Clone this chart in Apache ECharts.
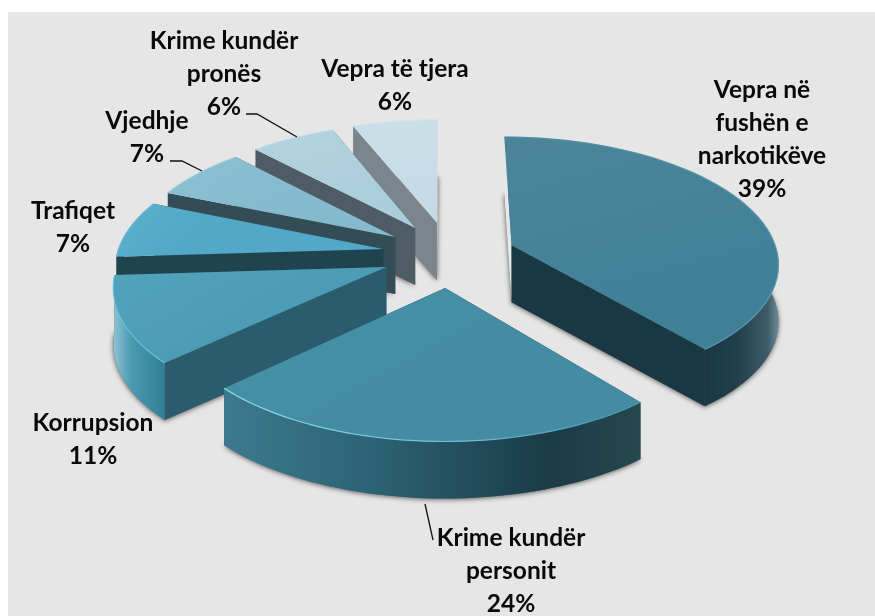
<!DOCTYPE html>
<html><head><meta charset="utf-8">
<style>html,body{margin:0;padding:0;background:#fff}#c{width:875px;height:616px}</style>
<script src="https://cdn.jsdelivr.net/npm/echarts@6/dist/echarts.min.js"></script>
</head><body><div id="c"></div>
<script>
const names = ['Vepra në\nfushën e\nnarkotikëve','Krime kundër\npersonit','Korrupsion','Trafiqet','Vjedhje','Krime kundër\npronës','Vepra të tjera'];
const values = [39,24,11,7.3,6.7,6,6];
const explodeX = [0.245,-0.007,-0.225,-0.241,-0.198,-0.123,-0.039];
const explodeY = [-0.159,0.177,0.016,-0.128,-0.226,-0.302,-0.345];
const drawOrder = [6,5,4,3,2,0,1];
const topFrom = ['#4c8599','#4793aa','#52a3bc','#5ab1cd','#8dc2d4','#b3d3e0','#cbdfe8'];
const topTo   = ['#3f8097','#438ca4','#4d9cb6','#52a8c6','#85bacd','#accddb','#c4dae4'];
const startWall = ['#e4e8ea','#1f4350','#2a5c6d','#1f444f','#344c56','#4d5c65','#7a868b'];
const endWall   = ['#1a3843','#1f4350','#2a5c6d','#1f444f','#344c56','#4d5c65','#e2e7ea'];
const arcStops = [
 [[0,'#1a3843'],[0.45,'#22404c'],[0.85,'#3d5b68'],[1,'#6d8a95']],
 [[0,'#3d7a8e'],[0.35,'#2c6375'],[0.78,'#1a3b47'],[1,'#27464f']],
 [[0,'#8fc4d3'],[0.35,'#4a9ab2'],[1,'#2f7e96']],
 [[0,'#1f444f'],[1,'#1f444f']],
 [[0,'#344c56'],[1,'#344c56']],
 [[0,'#4d5c65'],[1,'#4d5c65']],
 [[0,'#7a868b'],[1,'#7a868b']]
];
const rimStops = [
 [[0,'#4a8ba1'],[1,'#5c99ab']],
 [[0,'#8fdcec'],[0.6,'#6cbcd2'],[1,'#4a93aa']],
 [[0,'#5ec2dc'],[1,'#63c6df']],
 [[0,'#66b8d2'],[1,'#5fb4cf']],
 [[0,'#98c9da'],[1,'#98c9da']],
 [[0,'#bcd9e4'],[1,'#bcd9e4']],
 [[0,'#d2e4ec'],[1,'#d2e4ec']]
];
const labelX = [762,511,93,73,147,224,395];
const labelY = [140,571,440,228,137.5,74,85.5];
const leaders = [null,[[425,504],[433,540]],null,null,[[170,161],[182,161],[202,171]],[[246,114],[257,114],[297,137]],null];

const CX=447, CY=265, A=269, B=127, K=0.13, H=57;
const total = values.reduce((a,b)=>a+b,0);
function proj(X,Y){const w=1-K*Y;return [CX+A*X/w, CY+B*Y/w];}
function sliceGeom(i){
  let a0=0; for(let j=0;j<i;j++) a0+=values[j]/total*Math.PI*2;
  const a1=a0+values[i]/total*Math.PI*2, n=48, arc=[], front=[];
  for(let t=0;t<=n;t++){
    const a=a0+(a1-a0)*t/n, p=proj(explodeX[i]+Math.sin(a),explodeY[i]-Math.cos(a));
    arc.push(p);
    if(Math.cos(a)<0.1) front.push(p);
  }
  return {apex:proj(explodeX[i],explodeY[i]),arc,front};
}
const dn=p=>[p[0],p[1]+H];
const grad=(x,y,x2,y2,stops)=>new echarts.graphic.LinearGradient(x,y,x2,y2,stops.map(s=>({offset:s[0],color:s[1]})));

function renderItem(params){
  const i=params.dataIndex, g=sliceGeom(i), o=drawOrder.indexOf(i)*10+1;
  const top=[g.apex].concat(g.arc), bot=top.map(dn), last=g.arc[g.arc.length-1], first=g.arc[0];
  const poly=(pts,style,z)=>({type:'polygon',shape:{points:pts},style,z2:o+z,silent:true});
  const children=[
    poly(bot,{fill:'#6a6a6a',shadowBlur:5,shadowColor:'rgba(0,0,0,0.6)',shadowOffsetX:0,shadowOffsetY:1},0),
    poly([g.apex,first,dn(first),dn(g.apex)],{fill:startWall[i]},1),
    poly([g.apex,last,dn(last),dn(g.apex)],{fill:endWall[i]},2)
  ];
  if(g.front.length>1) children.push(poly(g.front.concat(g.front.map(dn).reverse()),{fill:grad(0,0,1,0,arcStops[i])},3));
  children.push(
    poly(top,{fill:grad(0,0,0.2,1,[[0,topFrom[i]],[1,topTo[i]]])},4),
    {type:'polyline',shape:{points:g.arc},style:{fill:null,stroke:grad(0,0,1,0,rimStops[i]),lineWidth:1.2},z2:o+5,silent:true}
  );
  children.push({type:'text',x:labelX[i],y:labelY[i],z2:900,silent:true,style:{
    text:names[i]+'\n'+Math.round(values[i])+'%',textAlign:'center',textVerticalAlign:'middle',
    fontFamily:'Lato',fontWeight:'bold',fontSize:24.5,lineHeight:33,fill:'#0a0a0a'}});
  if(leaders[i]) children.push({type:'polyline',z2:900,silent:true,shape:{points:leaders[i]},style:{fill:null,stroke:'#111',lineWidth:1.3}});
  return {type:'group',children};
}
const chart=echarts.init(document.getElementById('c'),null,{renderer:'canvas'});
chart.setOption({
  animation:false,
  backgroundColor:'#ffffff',
  graphic:[{type:'rect',z:-1,shape:{x:8,y:12,width:867,height:604},style:{fill:'#e6e6e6'},silent:true}],
  series:[{type:'custom',coordinateSystem:'none',renderItem,data:values.map((v,i)=>({name:names[i],value:v}))}]
});
</script></body></html>
